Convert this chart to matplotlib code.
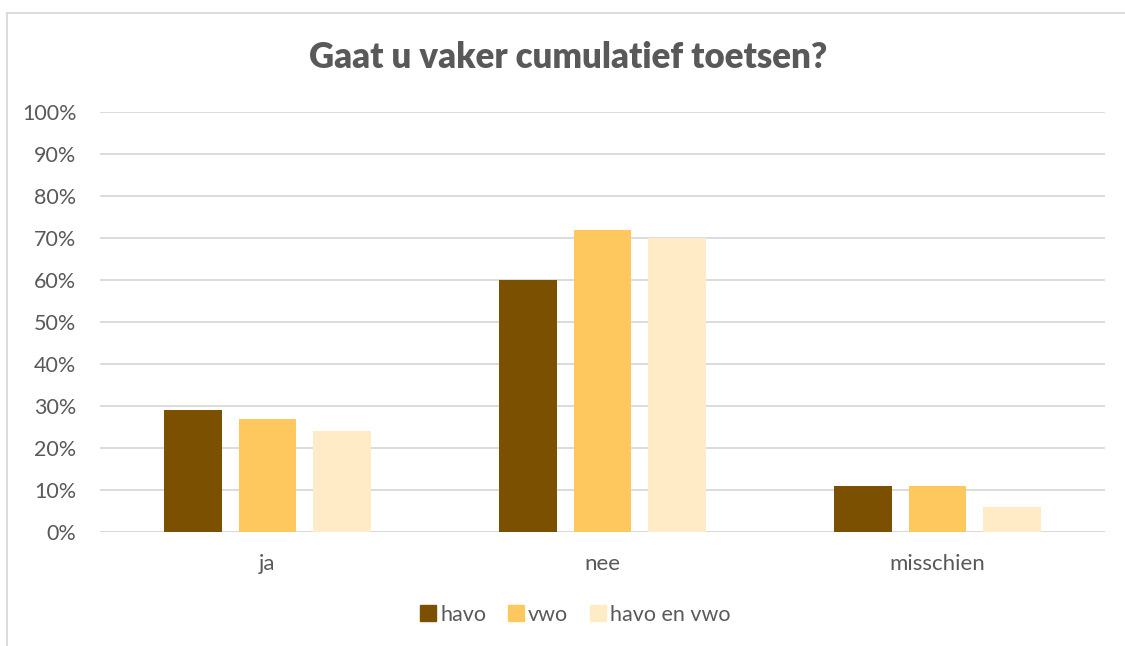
import numpy as np
import matplotlib.pyplot as plt
from matplotlib.lines import Line2D

plt.rcParams['font.family'] = ['Lato', 'DejaVu Sans']

categories = ['ja', 'nee', 'misschien']
series = ['havo', 'vwo', 'havo en vwo']
havo = [29, 60, 11]
vwo = [27, 72, 11]
havo_vwo = [24, 70, 6]
colors = ['#7b5000', '#ffc85f', '#ffebc6']
yticks = np.arange(0, 101, 10)

fig = plt.figure(figsize=(11.25, 6.46), dpi=100)
ax = fig.add_axes([100/1125, 114/646, 1005/1125, 420/646])

x = np.arange(len(categories))
w = 0.173
step = 0.223
for i, (vals, name) in enumerate(zip([havo, vwo, havo_vwo], series)):
    ax.bar(x + (i - 1)*step, vals, width=w, color=colors[i], label=name, zorder=3)

ax.set_xlim(-0.5, 2.5)
ax.set_ylim(0, 100)
ax.set_yticks(yticks)
ax.set_yticklabels([f'{v}%' for v in yticks])
ax.set_xticks(x)
ax.set_xticklabels(categories)
ax.grid(axis='y', color='#d9d9d9', linewidth=1.3, zorder=0)
for s in ax.spines.values():
    s.set_visible(False)
ax.tick_params(length=0, colors='#595959')
ax.tick_params(axis='y', pad=17, labelsize=15.5)
ax.tick_params(axis='x', pad=16, labelsize=16)
ax.axhline(0, color='#d9d9d9', linewidth=1.3, zorder=1)

fig.text(0.505, 1 - 57/646, 'Gaat u vaker cumulatief toetsen?', ha='center', va='center',
         fontsize=25, fontweight='heavy', color='#595959')

handles = [Line2D([0], [0], marker='s', linestyle='', markersize=11,
                  markerfacecolor=c, markeredgecolor=c) for c in colors]
fig.legend(handles, series, loc='center', bbox_to_anchor=(574/1125, 1 - 615/646),
           ncol=3, frameon=False, fontsize=15.5, labelcolor='#595959',
           handletextpad=0.05, columnspacing=0.9, handlelength=1.0)

# chart border (partly cut off on the right and bottom)
fig.add_artist(Line2D([7/1125, 1.0], [1 - 13/646, 1 - 13/646], color='#d9d9d9', linewidth=1.3))
fig.add_artist(Line2D([7/1125, 7/1125], [0, 1 - 13/646], color='#d9d9d9', linewidth=1.3))

fig.savefig('out.png', dpi=100)
